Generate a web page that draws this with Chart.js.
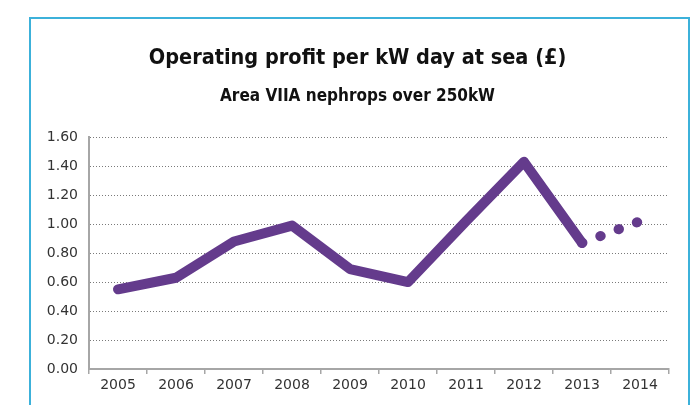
<!DOCTYPE html>
<html>
<head>
<meta charset="utf-8">
<title>Operating profit per kW day at sea</title>
<script src="https://cdn.jsdelivr.net/npm/chart.js@4/dist/chart.umd.min.js"></script>
<style>
  html, body {
    margin: 0;
    padding: 0;
    background: #ffffff;
    overflow: hidden;
  }
  .frame {
    position: absolute;
    left: 29px;
    top: 17px;
    width: 657px;
    height: 390px;
    border: 2px solid #3cb1da;
    border-bottom: none;
  }
  .frame canvas {
    display: block;
  }
</style>
</head>
<body>
<div class="frame">
  <canvas id="profit-chart" width="657" height="388"></canvas>
</div>
<script>
// Chart data
const years = ['2005', '2006', '2007', '2008', '2009', '2010', '2011', '2012', '2013', '2014'];
const profitPerKwDay = [0.55, 0.63, 0.88, 0.99, 0.69, 0.60, 1.02, 1.43, 0.87, 1.02];
// Index of the first point of the forecast (dotted) part of the line
const forecastFrom = 8;

const purple = '#643b8c';
const axisGrey = '#a6a6a6';

document.addEventListener('DOMContentLoaded', () => {
  const ctx = document.getElementById('profit-chart');

  new Chart(ctx, {
    type: 'line',
    data: {
      labels: years,
      datasets: [{
        label: 'Operating profit per kW day at sea (£)',
        data: profitPerKwDay,
        borderColor: purple,
        borderWidth: 10,
        borderCapStyle: 'round',
        borderJoinStyle: 'round',
        pointRadius: 0,
        tension: 0,
        fill: false,
        segment: {
          // last stretch is drawn as a row of round dots
          borderDash: c => c.p0DataIndex >= forecastFrom ? [0.5, 19] : undefined
        }
      }]
    },
    options: {
      responsive: false,
      animation: false,
      layout: {
        padding: { left: 0, right: 4, top: 0, bottom: 0 }
      },
      plugins: {
        legend: { display: false },
        tooltip: { enabled: false },
        title: {
          display: true,
          text: 'Operating profit per kW day at sea (£)',
          color: '#111111',
          font: { family: '"DejaVu Sans Condensed", "DejaVu Sans", sans-serif', size: 21.5, weight: 'bold' },
          padding: { top: 27, bottom: 14 }
        },
        subtitle: {
          display: true,
          text: 'Area VIIA nephrops over 250kW',
          color: '#111111',
          font: { family: '"DejaVu Sans Condensed", "DejaVu Sans", sans-serif', size: 17, weight: 'bold' },
          padding: { top: 1, bottom: 30 }
        }
      },
      scales: {
        x: {
          offset: true,
          border: { color: axisGrey, width: 2 },
          grid: {
            offset: true,
            drawOnChartArea: false,
            drawTicks: true,
            tickLength: 5,
            color: axisGrey,
            lineWidth: 1.5
          },
          ticks: {
            color: '#333333',
            padding: 3,
            maxRotation: 0,
            font: { family: '"DejaVu Sans", sans-serif', size: 14 }
          },
          afterFit: scale => { scale.height = 38; }
        },
        y: {
          min: 0,
          max: 1.6,
          // dotted horizontal gridlines like the original
          border: { color: axisGrey, width: 2, dash: [1, 2] },
          grid: {
            drawTicks: false,
            color: '#7a7a7a',
            lineWidth: 1
          },
          ticks: {
            stepSize: 0.2,
            color: '#333333',
            padding: 11,
            font: { family: '"DejaVu Sans", sans-serif', size: 14 },
            callback: v => Number(v).toFixed(2)
          },
          afterFit: scale => { scale.width = 58; }
        },
        // empty axis on the right, only to keep the titles centred on the frame
        spacer: {
          type: 'linear',
          position: 'right',
          min: 0,
          max: 1,
          grid: { display: false, drawTicks: false },
          border: { display: false },
          ticks: { display: false },
          afterFit: scale => { scale.width = 15; }
        }
      }
    }
  });
});
</script>
</body>
</html>
